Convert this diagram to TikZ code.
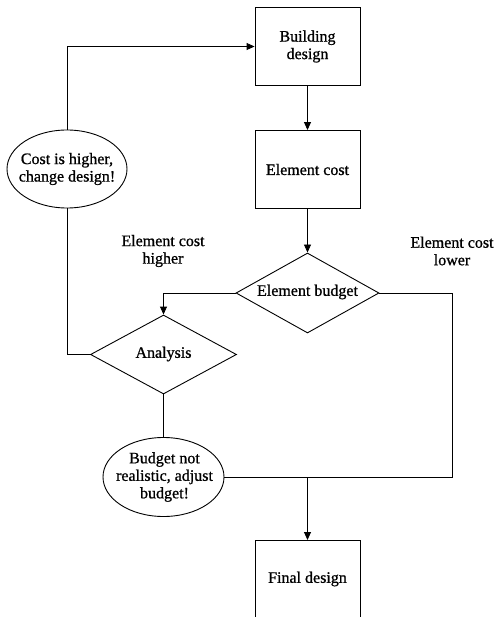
\documentclass[tikz,border=0pt]{standalone}
\usepackage{fontspec}
\setmainfont[BoldFont={Liberation Serif},BoldFeatures={FakeBold=0.9}]{Liberation Serif}
\usetikzlibrary{shapes.geometric,arrows.meta}
\begin{document}
\begin{tikzpicture}[x=1pt,y=-1pt,
  every node/.style={font=\fontsize{16}{17.5}\selectfont\bfseries},
  box/.style={draw,line width=0.9pt,minimum width=105pt,minimum height=78pt,inner sep=0pt},
  decision/.style={draw,line width=0.9pt,diamond,aspect=1.8,inner sep=0pt},
  oval/.style={draw,line width=0.9pt,ellipse,inner sep=0pt,align=center},
  link/.style={line width=0.9pt},
  arr/.style={link,-{Triangle[length=8pt,width=7pt]}},
  lbl/.style={align=center}]
\useasboundingbox (0,0) rectangle (495,617);

% process boxes
\node[box,align=center] (bd) at (307.5,46.5) {Building\\design};
\node[box] (ec) at (307.5,169.5) {Element cost};
\node[box,minimum height=86pt,anchor=north] (fd) at (307.5,540) {};
\node at (307.5,579) (fdt) {Final design};

% decisions
\node[decision,minimum width=143pt,minimum height=80pt] (eb) at (307.5,293) {};
\node at (307.5,292) {Element budget};
\node[decision,minimum width=146pt,minimum height=79pt] (an) at (163.5,354.5) {};
\node at (163.5,354) {Analysis};

% outcome ellipses
\node[oval,minimum width=120pt,minimum height=78pt] (ch) at (67,169) {};
\node[align=center] at (67,169) {Cost is higher,\\change design!};
\node[oval,minimum width=121pt,minimum height=79pt] (bn) at (163.5,477) {};
\node[align=center] at (164.5,477) {Budget not\\realistic, adjust\\budget!};

% branch labels
\node[lbl] at (163,251) {Element cost\\higher};
\node[lbl] at (452,251) {Element cost\\lower};

% connectors
\coordinate (j) at (307.5,477);
\draw[arr] (bd) -- (ec);
\draw[arr] (ec) -- (eb);
\draw[arr] (eb.west) -| (an.north);
\draw[link] (an.west) -| (ch.south);
\draw[arr] (ch.north) |- (bd.west);
\draw[link] (an.south) -- (bn.north);
\draw[link] (eb.east) -| (j -| 452,0) -- (bn.east);
\draw[arr] (j) -- (fd.north);
\end{tikzpicture}
\end{document}
